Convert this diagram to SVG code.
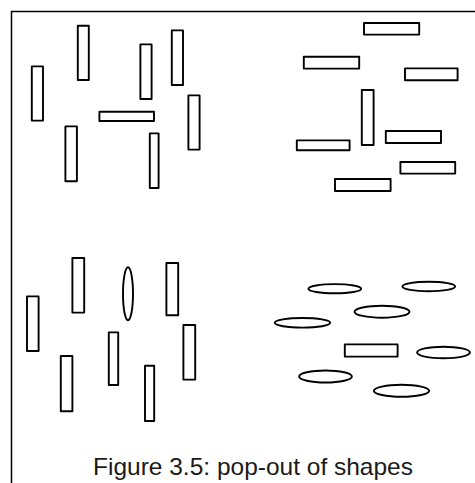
<svg xmlns="http://www.w3.org/2000/svg" width="475" height="483" viewBox="0 0 475 483">
<style>
.s{fill:#fff;stroke:#000;stroke-width:1.9;stroke-linejoin:round}
.b{fill:none;stroke:#000;stroke-width:1.5}
.cap{font-family:"Liberation Sans",Arial,sans-serif;font-size:24px;fill:#1a1a1a}
</style>
<rect width="475" height="483" fill="#fff"/>
<path class="b" d="M11.5 483V11.5H475"/>
<g id="q1">
<rect class="s" x="31.8" y="66.4" width="11.2" height="54.2"/>
<rect class="s" x="77.8" y="25.8" width="11" height="54.2"/>
<rect class="s" x="140.4" y="44.4" width="11.2" height="54.6"/>
<rect class="s" x="171.8" y="30.4" width="11.2" height="54.6"/>
<rect class="s" x="188.4" y="95.4" width="11.2" height="54.2"/>
<rect class="s" x="65.4" y="126.4" width="11.5" height="54.8"/>
<rect class="s" x="149.8" y="133.4" width="8.8" height="54.6"/>
<rect class="s" x="99.4" y="111.8" width="54.6" height="9.2"/>
</g>
<g id="q2">
<rect class="s" x="364" y="23" width="55.2" height="11.6"/>
<rect class="s" x="303.8" y="56.8" width="55.4" height="11.8"/>
<rect class="s" x="405" y="68.4" width="52.6" height="11.8"/>
<rect class="s" x="361.8" y="90" width="11.8" height="55"/>
<rect class="s" x="385.8" y="131" width="55.2" height="12"/>
<rect class="s" x="296.8" y="140.4" width="52.8" height="9.8"/>
<rect class="s" x="400.4" y="162" width="54.8" height="11.6"/>
<rect class="s" x="335" y="179" width="55.6" height="12"/>
</g>
<g id="q3">
<rect class="s" x="27" y="296.4" width="11.6" height="54.6"/>
<rect class="s" x="72.4" y="258" width="11.8" height="54.6"/>
<ellipse class="s" cx="128" cy="293.8" rx="5" ry="26.5"/>
<rect class="s" x="166.4" y="263" width="11.8" height="52.2"/>
<rect class="s" x="183.4" y="325" width="11.8" height="54.6"/>
<rect class="s" x="108.8" y="332.4" width="9.4" height="52.6"/>
<rect class="s" x="60.8" y="356" width="11.6" height="55.2"/>
<rect class="s" x="145" y="365.8" width="9.2" height="55.2"/>
</g>
<g id="q4">
<ellipse class="s" cx="334.8" cy="288.7" rx="26.4" ry="4.6"/>
<ellipse class="s" cx="428.8" cy="286.5" rx="26.4" ry="4.8"/>
<ellipse class="s" cx="382" cy="311.7" rx="27.5" ry="6"/>
<ellipse class="s" cx="302.5" cy="322.8" rx="27.7" ry="4.8"/>
<rect class="s" x="344.8" y="344.4" width="52.8" height="12.2"/>
<ellipse class="s" cx="443.5" cy="352.5" rx="26.4" ry="5.8"/>
<ellipse class="s" cx="325.5" cy="376.5" rx="26.4" ry="6"/>
<ellipse class="s" cx="401.5" cy="390.8" rx="27.7" ry="6"/>
</g>
<text class="cap" x="93" y="475" textLength="320" lengthAdjust="spacingAndGlyphs">Figure 3.5: pop-out of shapes</text>
</svg>
